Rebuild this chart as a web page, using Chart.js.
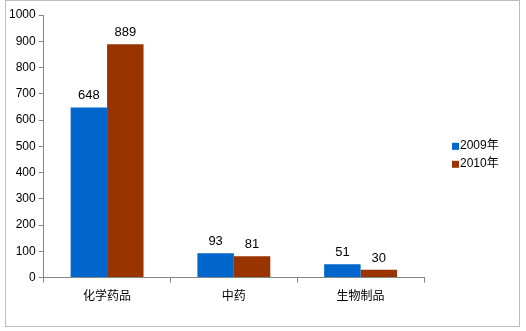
<!DOCTYPE html>
<html>
<head>
<meta charset="utf-8">
<script src="https://cdn.jsdelivr.net/npm/chart.js@4.4.1/dist/chart.umd.min.js"></script>
<style>
  html, body { margin: 0; padding: 0; background: #fff; }
  #wrap { position: relative; width: 526px; height: 331px; }
  #frame { position: absolute; left: 5px; top: 0px; width: 513px; height: 325px; border: 1px solid #bdbdbd; }
  #wrap canvas { position: absolute; left: 0; top: 0; }
</style>
</head>
<body>
<div id="wrap">
  <div id="frame"></div>
  <canvas id="chart" width="526" height="331"></canvas>
</div>
<script>
const categories = ["化学药品", "中药", "生物制品"];
const seriesNames = ["2009年", "2010年"];
const values2009 = [648, 93, 51];
const values2010 = [889, 81, 30];
const seriesColors = ["#0066cc", "#993300"];

const FONT = "'Liberation Sans', 'Noto Sans CJK SC', sans-serif";
const CJK = "'Noto Sans CJK SC', sans-serif";

// value above each bar
const barLabels = {
    id: "barLabels",
    afterDatasetsDraw(chart) {
        const ctx = chart.ctx;
        ctx.save();
        ctx.fillStyle = "#000";
        ctx.font = "13px " + FONT;
        ctx.textAlign = "center";
        ctx.textBaseline = "alphabetic";
        chart.data.datasets.forEach((ds, i) => {
            const meta = chart.getDatasetMeta(i);
            meta.data.forEach((bar, j) => {
                ctx.fillText(String(ds.data[j]), bar.x, bar.y - 8);
            });
        });
        ctx.restore();
    }
};

// legend on the right, square markers like the original
const sideLegend = {
    id: "sideLegend",
    afterDraw(chart) {
        const ctx = chart.ctx;
        const x = chart.chartArea.right + 28;
        const midY = (chart.chartArea.top + chart.chartArea.bottom) / 2;
        ctx.save();
        ctx.font = "12px " + FONT;
        ctx.textBaseline = "middle";
        chart.data.datasets.forEach((ds, i) => {
            const y = midY + 8.5 + (i - 0.5) * 18;
            ctx.fillStyle = ds.backgroundColor;
            ctx.fillRect(x, y - 3, 7, 7);
            ctx.fillStyle = "#000";
            ctx.fillText(ds.label, x + 8, y);
        });
        ctx.restore();
    }
};

new Chart(document.getElementById("chart").getContext("2d"), {
    type: "bar",
    data: {
        labels: categories,
        datasets: [
            { label: seriesNames[0], data: values2009, backgroundColor: seriesColors[0] },
            { label: seriesNames[1], data: values2010, backgroundColor: seriesColors[1] },
        ],
    },
    options: {
        responsive: false,
        animation: false,
        devicePixelRatio: 1,
        layout: { padding: { left: 6, top: 15, right: 102, bottom: 22 } },
        datasets: { bar: { categoryPercentage: 0.575, barPercentage: 1.0 } },
        plugins: {
            tooltip: { enabled: false },
            legend: { display: false },
        },
        scales: {
            y: {
                min: 0,
                max: 1000,
                ticks: { stepSize: 100, color: "#000", padding: 3, font: { family: FONT, size: 12 },
                    callback: v => String(v) },
                grid: { display: true, drawOnChartArea: false, drawTicks: true, tickLength: 5, color: "#868686" },
                border: { color: "#868686" },
            },
            x: {
                ticks: { color: "#000", padding: 6, font: { family: CJK, size: 12 } },
                grid: { display: true, offset: true, drawOnChartArea: false, drawTicks: true, tickLength: 5, color: "#868686" },
                border: { color: "#868686" },
            },
        },
    },
    plugins: [barLabels, sideLegend],
});
</script>
</body>
</html>
